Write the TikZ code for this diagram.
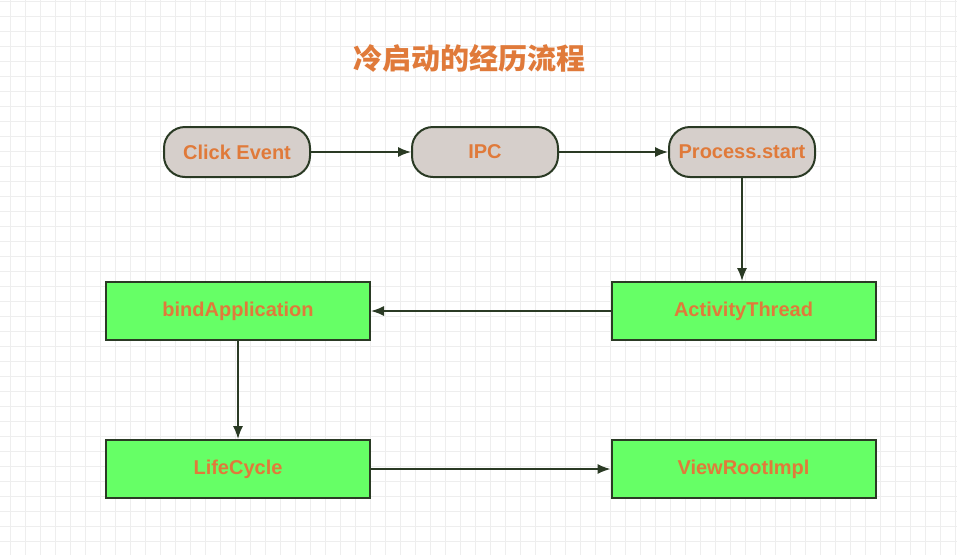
\documentclass[tikz,border=0pt]{standalone}
\usepackage{fontspec}
\setmainfont{Liberation Sans}
\newfontfamily\cjk{Noto Sans CJK SC}
\usetikzlibrary{positioning,arrows.meta}
\definecolor{txtorange}{HTML}{E07A3A}
\definecolor{edgegreen}{HTML}{2A3A24}
\definecolor{pillgray}{HTML}{D6CFCB}
\definecolor{boxgreen}{HTML}{66FF66}
\definecolor{gridgray}{HTML}{EEEEEE}
\tikzset{>={Latex[length=13pt,width=10pt]}}

\begin{document}
\begin{tikzpicture}[x=1pt,y=-1pt,
  pill/.style={draw=edgegreen,line width=2pt,fill=pillgray,rounded corners=21pt,
    minimum width=146pt,minimum height=50pt,inner sep=0pt,
    font=\fontsize{20}{22}\selectfont\bfseries,text=txtorange},
  gbox/.style={draw=edgegreen,line width=2pt,fill=boxgreen,
    minimum width=264pt,minimum height=58pt,inner sep=0pt,
    font=\fontsize{20}{22}\selectfont\bfseries,text=txtorange},
  link/.style={->,draw=edgegreen,line width=1.5pt}]
\useasboundingbox (0,0) rectangle (957,555);
\fill[white] (0,0) rectangle (957,555);
% background grid
\foreach \gx in {10,25,...,955} \draw[gridgray,line width=1pt] (\gx,0) -- (\gx,555);
\foreach \gy in {1,16,...,555} \draw[gridgray,line width=1pt] (0,\gy) -- (957,\gy);
% title
\node[text=txtorange,font=\cjk\bfseries\fontsize{29}{32}\selectfont] (title) at (469,58) {冷启动的经历流程};
% top row
\node[pill] (click) at (237,152) {Click Event};
\node[pill] (ipc) at (485,152) {IPC};
\node[pill] (pstart) at (742,152) {Process.start};
% boxes
\node[gbox] (actthread) at (743.5,311) {ActivityThread};
\node[gbox] (bindapp) at (238,311) {bindApplication};
\node[gbox] (lifecycle) at (238,469) {LifeCycle};
\node[gbox] (viewroot) at (743.5,469) {ViewRootImpl};
% arrows
\draw[link] (click) -- (ipc);
\draw[link] (ipc) -- (pstart);
\draw[link] (pstart.south) -- (pstart.south |- actthread.north);
\draw[link] (actthread) -- (bindapp);
\draw[link] (bindapp.south) -- (lifecycle.north);
\draw[link] (lifecycle) -- (viewroot);
\end{tikzpicture}
\end{document}
